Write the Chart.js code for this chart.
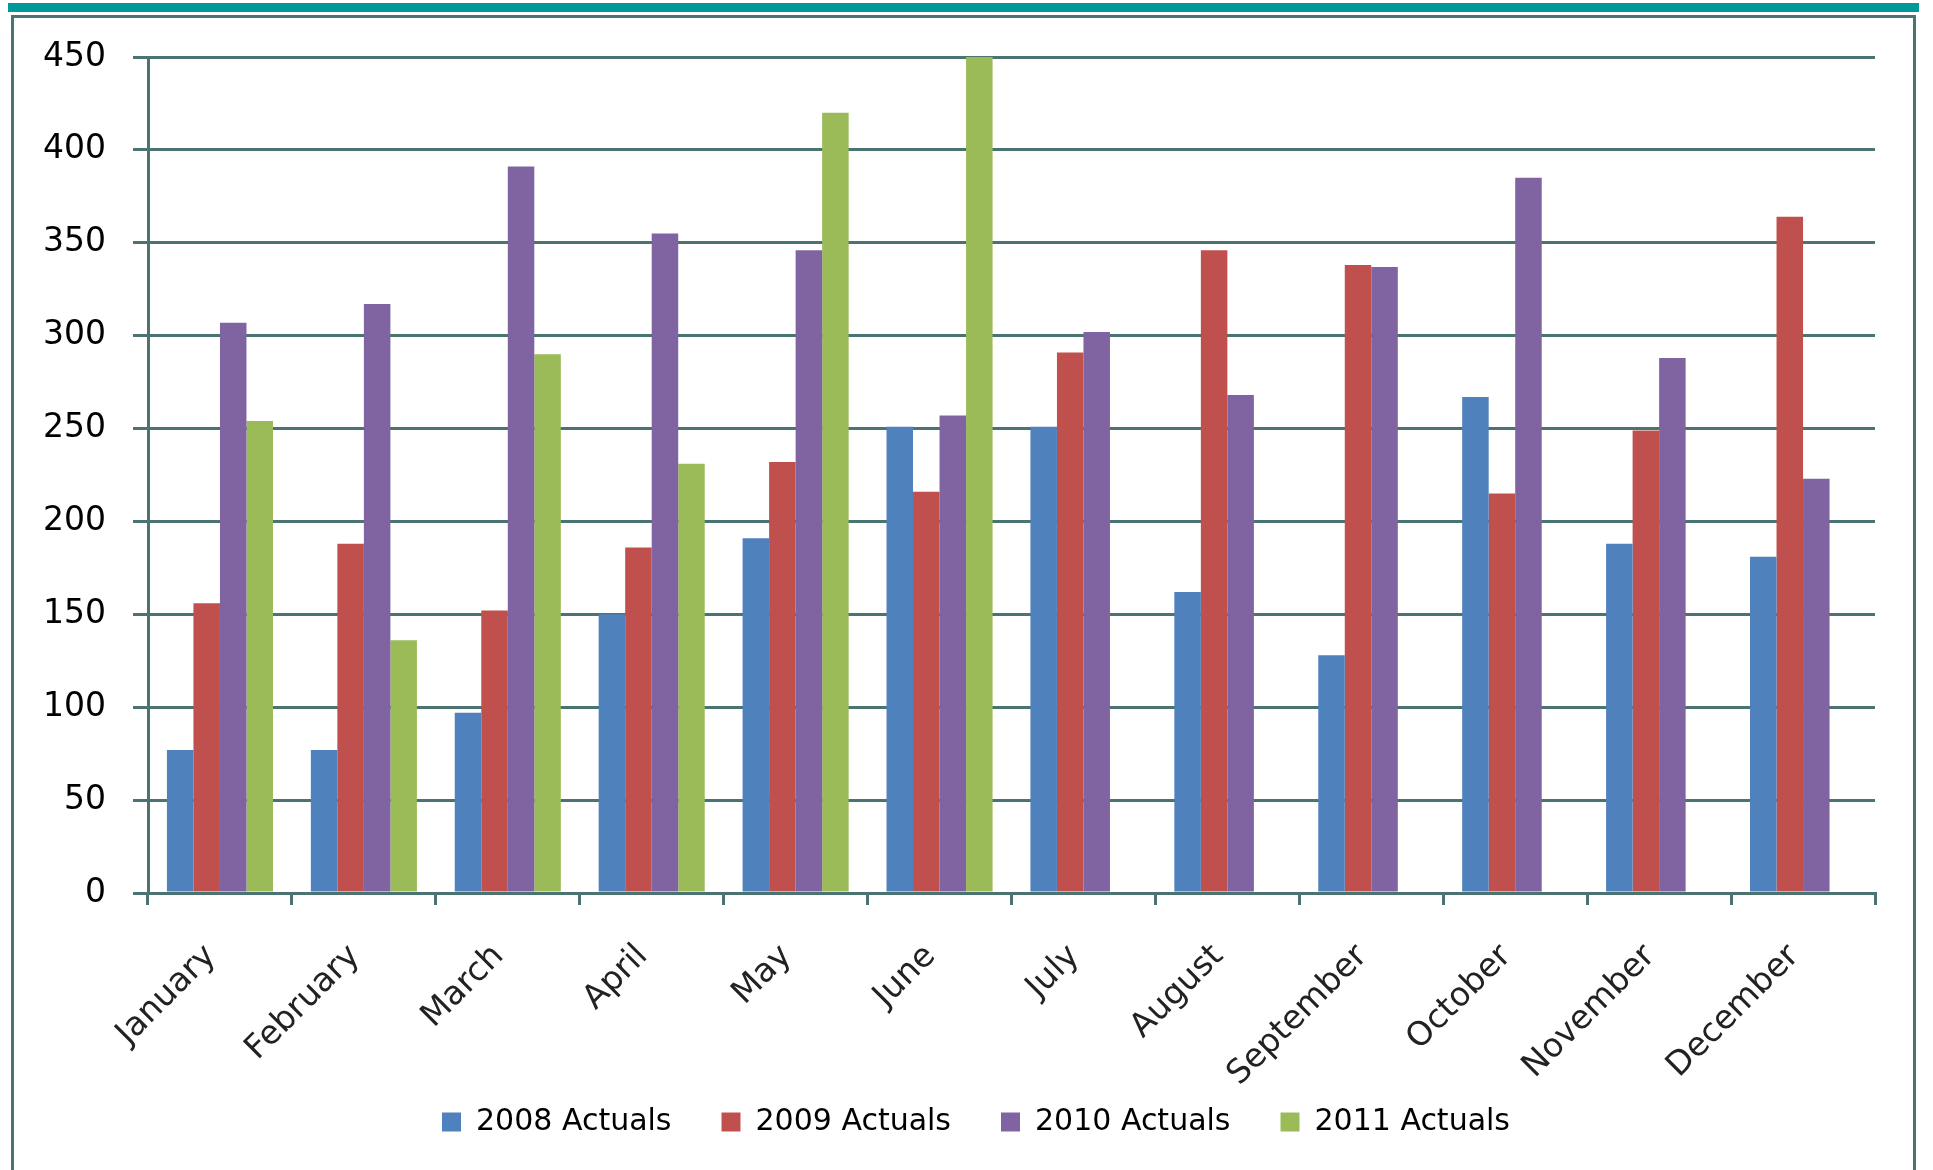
<!DOCTYPE html>
<html>
<head>
<meta charset="utf-8">
<script src="https://cdn.jsdelivr.net/npm/chart.js@4.4.1/dist/chart.umd.min.js"></script>
<style>
  html, body { margin: 0; padding: 0; background: #ffffff; }
  #wrap { position: relative; width: 1933px; height: 1170px; overflow: hidden; background: #ffffff; }
  #band { position: absolute; left: 8px; top: 3px; width: 1911px; height: 9px; background: #009999; }
  #frame { position: absolute; left: 11px; top: 15px; width: 1899px; height: 1200px; border: 3px solid #4A7372; border-bottom: none; }
  #c { position: absolute; left: 0; top: 0; }
</style>
</head>
<body>
<div id="wrap">
  <div id="band"></div>
  <div id="frame"></div>
  <canvas id="c" width="1933" height="1170"></canvas>
</div>
<script>
const months = ['January', 'February', 'March', 'April', 'May', 'June', 'July', 'August', 'September', 'October', 'November', 'December'];
const seriesNames = ['2008 Actuals', '2009 Actuals', '2010 Actuals', '2011 Actuals'];
const actuals2008 = [77, 77, 97, 150, 191, 251, 251, 162, 128, 267, 188, 181];
const actuals2009 = [156, 188, 152, 186, 232, 216, 291, 346, 338, 215, 249, 364];
const actuals2010 = [307, 317, 391, 355, 346, 257, 302, 268, 337, 385, 288, 223];
const actuals2011 = [254, 136, 290, 231, 420, 450, null, null, null, null, null, null];
const yTicks = [0, 50, 100, 150, 200, 250, 300, 350, 400, 450];
const colors = ['#4F81BD', '#C0504D', '#8064A2', '#9BBB59'];

const axisColor = '#4A7372';
const seriesData = [actuals2008, actuals2009, actuals2010, actuals2011];

const datasets = seriesData.map((d, i) => ({
  label: seriesNames[i],
  data: d,
  backgroundColor: colors[i],
  borderWidth: 0,
  barPercentage: 1.0,
  categoryPercentage: 0.737
}));

const noLabelClip = {
  id: 'noLabelClip',
  beforeDraw(chart) {
    Object.values(chart.scales).forEach(s => { s._computeLabelArea = () => undefined; });
  }
};

new Chart(document.getElementById('c'), {
  type: 'bar',
  data: { labels: months, datasets: datasets },
  plugins: [noLabelClip],
  options: {
    responsive: false,
    animation: false,
    devicePixelRatio: 1,
    layout: { padding: { left: 77, right: 58, top: 57, bottom: 23 } },
    plugins: {
      tooltip: { enabled: false },
      legend: {
        position: 'bottom',
        labels: {
          boxWidth: 19,
          boxHeight: 19,
          padding: 50,
          color: '#000000',
          font: { family: 'DejaVu Sans', size: 30 }
        }
      }
    },
    scales: {
      x: {
        grid: {
          drawOnChartArea: false,
          drawTicks: true,
          tickLength: 12,
          color: axisColor,
          lineWidth: 3,
          offset: true
        },
        border: { display: true, color: axisColor, width: 3 },
        ticks: {
          minRotation: 45,
          maxRotation: 45,
          padding: 32,
          labelOffset: -9,
          color: '#222222',
          font: { family: 'DejaVu Sans', size: 33 }
        },
        afterFit: (s) => { s.height = 164; }
      },
      y: {
        min: 0,
        max: 450,
        afterBuildTicks: (s) => { s.ticks = yTicks.map(v => ({ value: v })); },
        grid: {
          color: axisColor,
          lineWidth: 3,
          drawTicks: true,
          tickLength: 15
        },
        border: { display: true, color: axisColor, width: 3 },
        ticks: {
          padding: 27,
          color: '#000000',
          font: { family: 'DejaVu Sans', size: 33 }
        },
        afterFit: (s) => { s.width = 71; }
      }
    }
  }
});
</script>
</body>
</html>
